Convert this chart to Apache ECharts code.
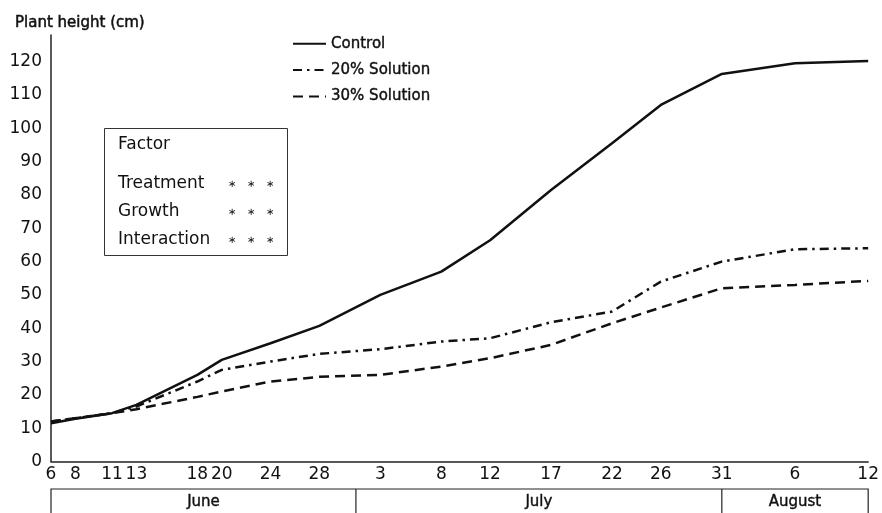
<!DOCTYPE html>
<html>
<head>
<meta charset="utf-8">
<script src="https://cdn.jsdelivr.net/npm/echarts@6/dist/echarts.min.js"></script>
<style>
  html, body { margin: 0; padding: 0; background: #fff; }
  #main { width: 882px; height: 513px; }
</style>
</head>
<body>
<div id="main"></div>
<script>
// Measurement dates (year is arbitrary)
const dates = ['2000-06-06','2000-06-08','2000-06-11','2000-06-13','2000-06-18','2000-06-20','2000-06-24','2000-06-28',
               '2000-07-03','2000-07-08','2000-07-12','2000-07-17','2000-07-22','2000-07-26','2000-07-31',
               '2000-08-06','2000-08-12'];
const dateLabels = ['6','8','11','13','18','20','24','28','3','8','12','17','22','26','31','6','12'];
const control    = [11.5, 12.8, 14.5, 17, 26, 30.5, 35.5, 40.7, 50, 57, 66.4, 81.5, 95.5, 107, 116.3, 119.5, 120.2];
const solution20 = [12, 13, 14.5, 16.5, 24, 27.5, 30, 32.3, 33.7, 36, 37, 41.8, 45, 54, 60, 63.7, 64];
const solution30 = [12, 13, 14.5, 15.7, 19.4, 21, 24, 25.4, 26, 28.5, 31, 35, 41.5, 46.2, 52, 53, 54.2];
const yTicks = [0,10,20,30,40,50,60,70,80,90,100,110,120];
const months = ['June','July','August'];
const monthBounds = ['2000-06-06','2000-07-01','2000-07-31','2000-08-12'];
const factorRows = ['Treatment','Growth','Interaction'];
const factorStars = ['***','***','***'];

const DAY = 86400000;
const t0 = Date.parse(dates[0]);
const toDay = d => Math.round((Date.parse(d) - t0) / DAY);
const days = dates.map(toDay);
const labelByDay = {};
days.forEach((d, i) => { labelByDay[d] = dateLabels[i]; });
const pair = arr => arr.map((v, i) => [days[i], v]);

const FONT = 'DejaVu Sans';
const chart = echarts.init(document.getElementById('main'));

const option = {
  animation: false,
  backgroundColor: '#fff',
  title: {
    text: 'Plant height (cm)', left: 10, top: 11,
    textStyle: { fontFamily: FONT, fontSize: 15, fontWeight: 'normal', color: '#111',
      textBorderColor: '#111', textBorderWidth: 0.5 }
  },
  legend: {
    orient: 'vertical', left: 287, top: 31, itemWidth: 33, itemHeight: 14, itemGap: 11,
    itemStyle: { opacity: 0 },
    textStyle: { fontFamily: FONT, fontSize: 15, color: '#111', textBorderColor: '#111', textBorderWidth: 0.4 },
    data: ['Control', '20% Solution', '30% Solution']
  },
  grid: { left: 51, right: 6, top: 35, bottom: 51.5 },
  xAxis: {
    type: 'value', min: 0, max: days[days.length - 1],
    splitLine: { show: false },
    axisLine: { lineStyle: { color: '#222', width: 1.5 } },
    axisTick: { show: false },
    axisLabel: {
      customValues: days, margin: 5,
      fontFamily: FONT, fontSize: 17, color: '#111',
      formatter: v => labelByDay[v] || ''
    }
  },
  yAxis: {
    type: 'value', min: 0, max: 128,
    splitLine: { show: false },
    axisLine: { show: true, lineStyle: { color: '#222', width: 1.5 } },
    axisTick: { show: false },
    axisLabel: { customValues: yTicks, margin: 9, fontFamily: FONT, fontSize: 17, color: '#111' }
  },
  series: [
    { name: 'Control', type: 'line', data: pair(control), symbol: 'none',
      lineStyle: { color: '#111', width: 2.5, type: 'solid' }, itemStyle: { color: '#111' } },
    { name: '20% Solution', type: 'line', data: pair(solution20), symbol: 'none',
      lineStyle: { color: '#111', width: 2.5, type: [9, 5, 2.5, 5] }, itemStyle: { color: '#111' } },
    { name: '30% Solution', type: 'line', data: pair(solution30), symbol: 'none',
      lineStyle: { color: '#111', width: 2.5, type: [10, 6] }, itemStyle: { color: '#111' } }
  ]
};
chart.setOption(option);

// Month boxes below the axis, positioned through the x scale
const bx = monthBounds.map(d => chart.convertToPixel({ xAxisIndex: 0 }, toDay(d)));
const boxTop = 489, boxBottom = 530;
const graphics = [];
graphics.push({ type: 'rect', shape: { x: bx[0], y: boxTop, width: bx[bx.length - 1] - bx[0], height: boxBottom - boxTop },
  style: { fill: 'none', stroke: '#222', lineWidth: 1.2 } });
for (let i = 1; i < bx.length - 1; i++) {
  graphics.push({ type: 'line', shape: { x1: bx[i], y1: boxTop, x2: bx[i], y2: boxBottom },
    style: { stroke: '#222', lineWidth: 1.2 } });
}
months.forEach((m, i) => {
  graphics.push({ type: 'text', x: (bx[i] + bx[i + 1]) / 2, y: 502,
    style: { text: m, fontFamily: FONT, fontSize: 15, fill: '#111', align: 'center', verticalAlign: 'middle',
      stroke: '#111', lineWidth: 0.4 } });
});

// Factor box
const fb = { x: 104.5, y: 128.5, w: 183, h: 127 };
graphics.push({ type: 'rect', shape: { x: fb.x, y: fb.y, width: fb.w, height: fb.h },
  style: { fill: '#fff', stroke: '#333', lineWidth: 1 } });
graphics.push({ type: 'text', x: 118, y: 145,
  style: { text: 'Factor', fontFamily: FONT, fontSize: 17, fill: '#111', verticalAlign: 'middle' } });
factorRows.forEach((r, i) => {
  const y = 184 + i * 28;
  graphics.push({ type: 'text', x: 118, y: y,
    style: { text: r, fontFamily: FONT, fontSize: 17, fill: '#111', verticalAlign: 'middle' } });
  factorStars[i].split('').forEach((s, j) => {
    graphics.push({ type: 'text', x: 232 + j * 19, y: y,
      style: { text: '\u2217', fontFamily: FONT, fontSize: 10, fill: '#111', align: 'center', verticalAlign: 'middle' } });
  });
});

chart.setOption({ graphic: graphics });
</script>
</body>
</html>
